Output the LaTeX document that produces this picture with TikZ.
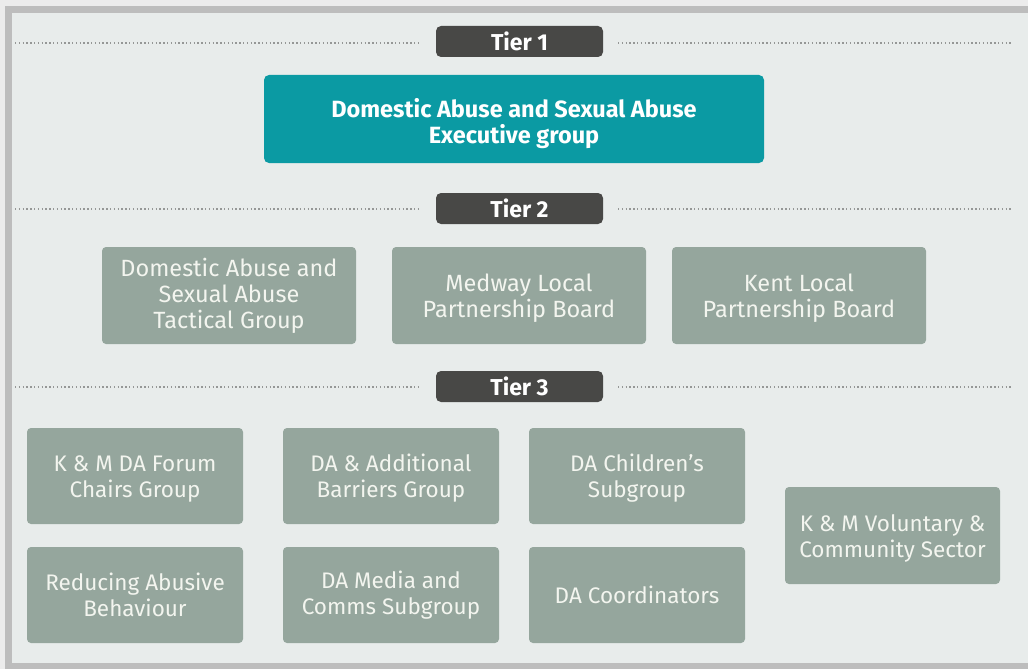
\documentclass[tikz,border=0pt]{standalone}
\usepackage{fontspec}
\setmainfont{Fira Sans}
\definecolor{bgc}{HTML}{E8ECEB}
\definecolor{framec}{HTML}{BDBDBD}
\definecolor{tierc}{HTML}{484846}
\definecolor{tealc}{HTML}{0B9AA3}
\definecolor{greyc}{HTML}{95A69D}
\definecolor{txtc}{HTML}{F3F5EF}
\definecolor{dotc}{HTML}{959796}
\begin{document}
\begin{tikzpicture}[x=1pt,y=-1pt,
  tierbox/.style={fill=tierc,rounded corners=5pt,minimum width=167pt,minimum height=31pt,inner sep=0pt,text=white,font=\fontsize{23}{26}\selectfont\bfseries},
  topbox/.style={fill=tealc,rounded corners=5pt,minimum width=500pt,minimum height=88pt,inner sep=0pt,text=white,align=center,font=\fontsize{23.5}{26}\selectfont\bfseries},
  midbox/.style={fill=greyc,rounded corners=4pt,minimum width=254pt,minimum height=97pt,inner sep=0pt,text=txtc,align=center,font=\fontsize{23.5}{26}\selectfont},
  lowbox/.style={fill=greyc,rounded corners=4pt,minimum width=216pt,minimum height=96pt,inner sep=0pt,text=txtc,align=center,font=\fontsize{22.5}{26}\selectfont},
  dotline/.style={draw=dotc,line width=1.8pt,dash pattern=on 1.4pt off 2.4pt}]
\useasboundingbox (0,0) rectangle (1028,669);
\fill[framec] (0,0) rectangle (1028,669);
\fill[gray!15] (0,0) rectangle (1028,6);
\fill[gray!15] (0,0) rectangle (5,669);
\fill[bgc] (12,13) rectangle (1028,663);
% Tier 1
\node[tierbox] (t1) at (519.5,41.5) {Tier 1};
\coordinate (l1a) at (15,43); \coordinate (l1b) at (420,43);
\coordinate (r1a) at (618,43); \coordinate (r1b) at (1012,43);
\draw[dotline] (l1a) -- (l1b); \draw[dotline] (r1a) -- (r1b);
\node[topbox] (exec) at (514,119) {\rule{0pt}{28.5pt}Domestic Abuse and Sexual Abuse\\Executive group};
% Tier 2
\node[tierbox] (t2) at (519.5,208.5) {Tier 2};
\coordinate (l2a) at (15,209); \coordinate (l2b) at (420,209);
\coordinate (r2a) at (618,209); \coordinate (r2b) at (1012,209);
\draw[dotline] (l2a) -- (l2b); \draw[dotline] (r2a) -- (r2b);
\node[midbox] (tac) at (229,295.5) {Domestic Abuse and\\Sexual Abuse\\Tactical Group};
\node[midbox] (med) at (519,295.5) {\rule{0pt}{22pt}Medway Local\\Partnership Board};
\node[midbox] (kent) at (799,295.5) {\rule{0pt}{22pt}Kent Local\\Partnership Board};
% Tier 3
\node[tierbox] (t3) at (519.5,386.5) {Tier 3};
\coordinate (l3a) at (15,387); \coordinate (l3b) at (420,387);
\coordinate (r3a) at (618,387); \coordinate (r3b) at (1012,387);
\draw[dotline] (l3a) -- (l3b); \draw[dotline] (r3a) -- (r3b);
\node[lowbox] (forum) at (135,476) {\rule{0pt}{22pt}K \& M DA Forum\\Chairs Group};
\node[lowbox] (barr) at (391,476) {\rule{0pt}{22pt}DA \& Additional\\Barriers Group};
\node[lowbox] (child) at (637,476) {\rule{0pt}{22pt}DA Children's\\Subgroup};
\node[lowbox] (reduce) at (135,595) {Reducing Abusive\\Behaviour};
\node[lowbox] (media) at (391,595) {DA Media and\\Comms Subgroup};
\node[lowbox] (coord) at (637,595) {DA Coordinators};
\node[lowbox,minimum width=215pt,minimum height=97pt] (vol) at (892.5,535.5) {\rule{0pt}{22pt}K \& M Voluntary \&\\Community Sector};
\end{tikzpicture}
\end{document}
